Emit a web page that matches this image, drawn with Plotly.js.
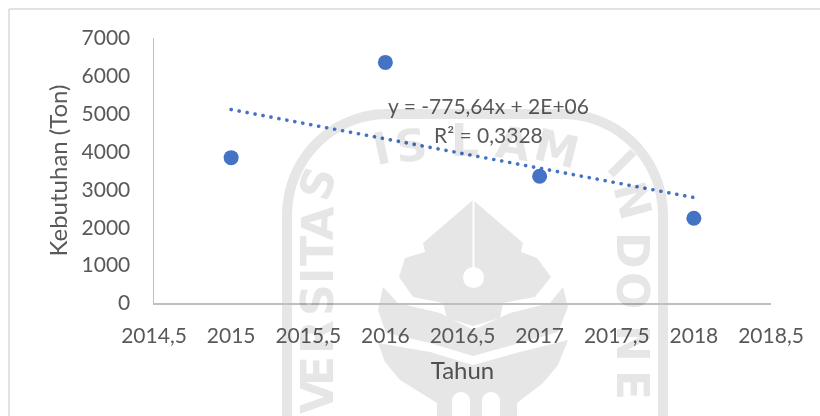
<!DOCTYPE html>
<html>
<head>
<meta charset="utf-8">
<script src="https://cdn.plot.ly/plotly-3.0.1.min.js"></script>
<style>
body { margin: 0; background: #fff; }
#chart { width: 820px; height: 416px; }
.trendline .js-line { stroke-linecap: round !important; }
</style>
</head>
<body>
<div id="chart"></div>
<script>
var years = [2015, 2016, 2017, 2018];
var kebutuhan = [3840, 6355, 3350, 2240];
var trendYears = [2015, 2018];
var trendValues = [5110, 2785];
var xTicks = [2014.5, 2015, 2015.5, 2016, 2016.5, 2017, 2017.5, 2018, 2018.5];
var xLabels = ["2014,5", "2015", "2015,5", "2016", "2016,5", "2017", "2017,5", "2018", "2018,5"];
var yTicks = [0, 1000, 2000, 3000, 4000, 5000, 6000, 7000];
var equation = ["y = -775,64x + 2E+06", "R² = 0,3328"];

var left = 154, top_ = 38, plotW = 617, plotH = 265;
var blue = "#4472c4";
var textCol = "#595959";
var wm = "#e6e6e6";
var fontName = "Lato, 'Open Sans', sans-serif";

// page pixels to paper coordinates
var px = function (x) { return (x - left) / plotW; };
var py = function (y) { return (top_ + plotH - y) / plotH; };
var path = function (pts, closed) {
    var d = "";
    pts.forEach(function (p, i) {
        d += (i == 0 ? "M" : "L") + px(p[0]) + "," + py(p[1]);
    });
    return d + (closed ? "Z" : "");
};
var arcPts = function (cx, cy, rx, ry, a0, a1) {
    var out = [];
    for (var a = a0; a <= a1; a += 6) {
        out.push([cx + rx * Math.cos(a * Math.PI / 180), cy + ry * Math.sin(a * Math.PI / 180)]);
    }
    return out;
};

var ring = [[287, 416], [287, 215]]
    .concat(arcPts(387, 215, 100, 101, 180, 270))
    .concat(arcPts(563, 215, 100, 101, 270, 360))
    .concat([[663, 416]]);
var nib = [[473, 200], [423, 243], [425, 252], [405, 258], [399, 277], [413, 297], [443, 303], [447, 318], [473, 326],
    [500, 318], [503, 303], [535, 297], [551, 277], [537, 258], [521, 252], [523, 243]];
var wing = [[383, 287], [378, 310], [386, 333], [430, 343], [473, 356], [520, 343], [558, 332], [568, 307],
    [563, 287], [550, 303], [510, 313], [473, 330], [440, 313], [398, 303]];
var bowl = [[378, 343], [430, 352], [473, 365], [520, 352], [568, 340], [558, 365], [543, 383], [517, 403], [517, 416],
    [437, 416], [437, 403], [400, 380], [385, 362]];
var arch1 = [[452, 416]].concat(arcPts(461, 401, 9, 9, 180, 360)).concat([[470, 416]]);
var arch2 = [[482, 416]].concat(arcPts(491, 401, 9, 9, 180, 360)).concat([[500, 416]]);

var shape = function (pts, closed, fill) {
    return {
        type: "path", xref: "paper", yref: "paper", layer: "below", path: path(pts, closed),
        fillcolor: closed ? fill : "rgba(0,0,0,0)",
        line: { color: wm, width: closed ? 0 : 10 }
    };
};

var shapes = [
    shape(ring, false), shape(nib, true, wm), shape(wing, true, wm), shape(bowl, true, wm),
    shape(arch1, true, "#fff"), shape(arch2, true, "#fff"),
    // slit and hole of the pen nib
    {
        type: "line", xref: "paper", yref: "paper", layer: "below",
        x0: px(473.5), x1: px(473.5), y0: py(200), y1: py(270), line: { color: "#fff", width: 2 }
    },
    {
        type: "circle", xref: "paper", yref: "paper", layer: "below",
        x0: px(463), x1: px(484), y0: py(267), y1: py(288), fillcolor: "#fff", line: { width: 0 }
    },
    // chart frame
    {
        type: "line", xref: "paper", yref: "paper", layer: "below",
        x0: px(9), x1: px(820), y0: py(9), y1: py(9), line: { color: "#d9d9d9", width: 1.5 }
    },
    {
        type: "line", xref: "paper", yref: "paper", layer: "below",
        x0: px(9), x1: px(9), y0: py(9), y1: py(416), line: { color: "#d9d9d9", width: 1.5 }
    }
];

// watermark letters: char, x, y, rotation
var wmLetters = [
    ["I", 381, 148, -12], ["S", 411, 145, -8], ["L", 465, 140, 0], ["A", 513, 143, 8], ["M", 557, 148, 14],
    ["I", 622, 163, 45], ["N", 633, 200, 75], ["D", 633, 250, 90], ["O", 633, 290, 90], ["N", 633, 343, 90], ["E", 633, 385, 90],
    ["S", 317, 183, -72], ["A", 317, 223, -88], ["T", 317, 251, -90], ["I", 317, 276, -90], ["S", 317, 300, -90],
    ["R", 317, 337, -90], ["E", 317, 371, -90], ["V", 317, 397, -90]
];

var annotations = wmLetters.map(function (l) {
    return {
        text: l[0], xref: "paper", yref: "paper", x: px(l[1]), y: py(l[2]), textangle: l[3],
        showarrow: false, xanchor: "center", yanchor: "middle",
        font: { family: "'DejaVu Sans', sans-serif", size: 44, color: wm, weight: 700 }
    };
});
annotations.push({
    text: equation[0], xref: "paper", yref: "paper", x: px(488), y: py(105), showarrow: false,
    xanchor: "center", yanchor: "middle", font: { family: fontName, size: 21, color: textCol }
});
annotations.push({
    text: equation[1], xref: "paper", yref: "paper", x: px(488), y: py(134), showarrow: false,
    xanchor: "center", yanchor: "middle", font: { family: fontName, size: 21, color: textCol }
});

var data = [{
    x: years,
    y: kebutuhan,
    mode: "markers",
    type: "scatter",
    cliponaxis: false,
    marker: { color: blue, size: 15 }
}, {
    x: trendYears,
    y: trendValues,
    mode: "lines",
    type: "scatter",
    cliponaxis: false,
    line: { color: blue, width: 3.6, dash: "0.1px,8px" }
}];

var layout = {
    width: 820,
    height: 416,
    margin: { l: left, r: 820 - left - plotW, t: top_, b: 416 - top_ - plotH, pad: 0 },
    paper_bgcolor: "#fff",
    plot_bgcolor: "rgba(0,0,0,0)",
    showlegend: false,
    font: { family: fontName, size: 21, color: textCol },
    shapes: shapes,
    annotations: annotations,
    xaxis: {
        range: [2014.5, 2018.5],
        tickmode: "array", tickvals: xTicks, ticktext: xLabels,
        showgrid: false, zeroline: false, showline: true, linecolor: "#bfbfbf", linewidth: 1.5,
        ticks: "", ticklabelstandoff: 13,
        title: { text: "Tahun", standoff: 16, font: { family: fontName, size: 24, color: textCol } }
    },
    yaxis: {
        range: [0, 7000],
        tickmode: "array", tickvals: yTicks, ticktext: yTicks.map(String),
        showgrid: false, zeroline: false, showline: true, linecolor: "#bfbfbf", linewidth: 1.5,
        ticks: "", ticklabelstandoff: 18,
        title: { text: "Kebutuhan (Ton)", standoff: 7, font: { family: fontName, size: 24, color: textCol } }
    }
};

Plotly.newPlot("chart", data, layout, { displayModeBar: false, staticPlot: true }).then(function () {
    var traces = document.querySelectorAll(".scatterlayer .trace");
    traces[1].classList.add("trendline");
    // scanned page look: the watermark letters must not hide what is under them
    document.querySelector(".infolayer").ownerSVGElement.style.mixBlendMode = "multiply";
});
</script>
</body>
</html>
